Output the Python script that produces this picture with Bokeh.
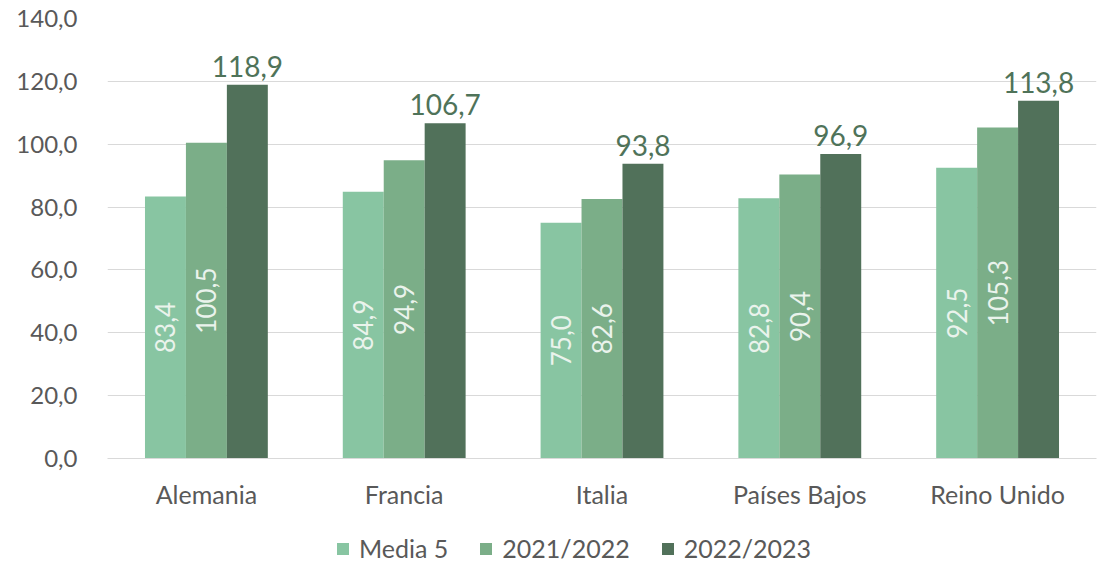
from bokeh.plotting import figure
from bokeh.layouts import column
from bokeh.models import ColumnDataSource, FactorRange, FixedTicker, CustomJSTickFormatter, Legend, LegendItem
from bokeh.transform import dodge
from bokeh.core.properties import value
from bokeh.embed import file_html
from bokeh.resources import INLINE
import math

categories = ["Alemania", "Francia", "Italia", "Países Bajos", "Reino Unido"]
series_names = ["Media 5", "2021/2022", "2022/2023"]
media5 = [83.4, 84.9, 75.0, 82.8, 92.5]
y2122 = [100.5, 94.9, 82.6, 90.4, 105.3]
y2223 = [118.9, 106.7, 93.8, 96.9, 113.8]
colors = ["#88C5A2", "#7BAE88", "#51715A"]
y_ticks = [0, 20, 40, 60, 80, 100, 120, 140]

FONT = "Lato"
GRAY = "#595959"

def fmt(v):
    return f"{v:.1f}".replace(".", ",")

src = ColumnDataSource(dict(
    cat=categories,
    m5=media5, a=y2122, b=y2223,
    m5_half=[v / 2 for v in media5],
    a_half=[v / 2 for v in y2122],
    m5_lbl=[fmt(v) for v in media5],
    a_lbl=[fmt(v) for v in y2122],
    b_lbl=[fmt(v) for v in y2223],
))

p = figure(x_range=FactorRange(*categories), y_range=(0, 140),
           frame_width=989, frame_height=440,
           min_border_left=107, min_border_right=3, min_border_top=18, min_border_bottom=66,
           output_backend="svg", toolbar_location=None)
p.outline_line_color = None
p.background_fill_color = "white"

w = 0.207
p.vbar(x=dodge("cat", -w, range=p.x_range), top="m5", width=w, source=src, color=colors[0], line_color=None)
p.vbar(x=dodge("cat", 0, range=p.x_range), top="a", width=w, source=src, color=colors[1], line_color=None)
p.vbar(x=dodge("cat", w, range=p.x_range), top="b", width=w, source=src, color=colors[2], line_color=None)

inner_color = "#EAF3EC"
p.text(x=dodge("cat", -w, range=p.x_range), y="m5_half", text="m5_lbl", source=src,
       angle=math.pi / 2, text_align="center", text_baseline="middle",
       text_font=value(FONT), text_font_size="26px", text_color=inner_color)
p.text(x=dodge("cat", 0, range=p.x_range), y="a_half", text="a_lbl", source=src,
       angle=math.pi / 2, text_align="center", text_baseline="middle",
       text_font=value(FONT), text_font_size="26px", text_color=inner_color)
p.text(x=dodge("cat", w, range=p.x_range), y="b", text="b_lbl", source=src,
       text_align="center", text_baseline="bottom", y_offset=-8,
       text_font=value(FONT), text_font_size="28px", text_color="#4F7359")

p.yaxis.ticker = FixedTicker(ticks=y_ticks)
p.yaxis.formatter = CustomJSTickFormatter(code="return tick.toFixed(1).replace('.', ',');")
p.yaxis.axis_line_color = None
p.yaxis.major_tick_line_color = None
p.yaxis.minor_tick_line_color = None
p.yaxis.major_label_text_font = FONT
p.yaxis.major_label_text_font_size = "24px"
p.yaxis.major_label_text_color = GRAY
p.yaxis.major_label_standoff = 24

p.xaxis.axis_line_color = "#D9D9D9"
p.xaxis.major_tick_line_color = None
p.xaxis.minor_tick_line_color = None
p.xaxis.major_label_text_font = FONT
p.xaxis.major_label_text_font_size = "25px"
p.xaxis.major_label_text_color = GRAY
p.xaxis.major_label_standoff = 14

p.xgrid.grid_line_color = None
p.ygrid.grid_line_color = "#D9D9D9"
p.ygrid.grid_line_width = 1

# legend strip (its glyphs have zero height; only the legend shows)
lg = figure(width=1099, height=42, x_range=(0, 1), y_range=(0, 1),
            min_border=0, x_axis_type=None, y_axis_type=None,
            output_backend="svg", toolbar_location=None)
lg.outline_line_color = None
lg.xgrid.grid_line_color = None
lg.ygrid.grid_line_color = None
hidden = ColumnDataSource(dict(x=[0.5], top=[0]))
lr = [lg.vbar(x="x", top="top", bottom=0, width=0.0, source=hidden, color=c, line_color=None) for c in colors]
legend = Legend(items=[LegendItem(label=n, renderers=[r]) for n, r in zip(series_names, lr)],
                orientation="horizontal", location=(228, 3),
                glyph_width=15, glyph_height=15, label_standoff=9, spacing=30,
                label_text_font=FONT, label_text_font_size="25px", label_text_color=GRAY,
                border_line_color=None, background_fill_alpha=0, margin=0, padding=2)
lg.add_layout(legend, "center")

layout = column(p, lg, spacing=0)
open("out.html", "w").write(file_html(layout, INLINE))
